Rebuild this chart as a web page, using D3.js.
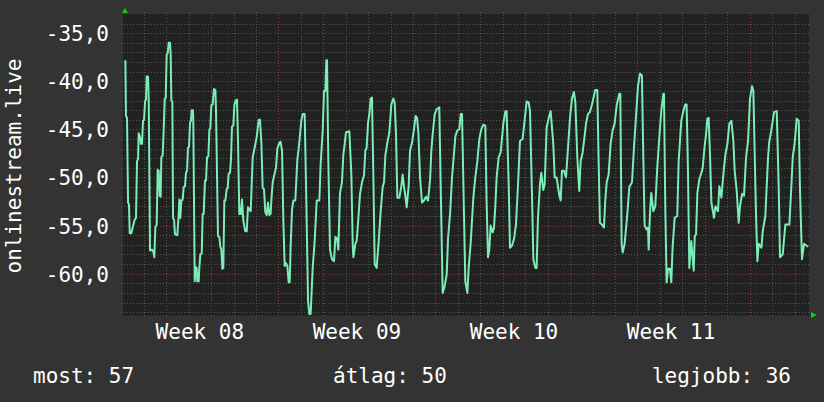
<!DOCTYPE html>
<html><head><meta charset="utf-8">
<script src="https://cdn.jsdelivr.net/npm/d3@7"></script>
<style>html,body{margin:0;padding:0;background:#333333;}svg{display:block;}</style>
</head><body><svg id="c" width="824" height="402"></svg>
<script>
// ---- data (hours since Monday of Week 08, value) ----
const seriesName = "onlinestream.live";
const hours = [4.3,5.0,6.1,7.2,8.2,9.0,10.7,12.2,14.3,15.7,16.8,17.9,18.6,20.0,21.1,22.1,23.2,24.3,25.4,26.4,27.1,28.6,29.3,30.7,32.8,34.3,35.3,36.4,37.8,38.9,40.0,41.0,42.1,42.8,44.2,45.3,46.4,47.5,48.5,49.6,50.7,52.1,52.8,53.5,54.6,55.3,56.4,57.4,59.9,61.4,62.1,63.1,64.2,65.6,66.7,68.1,69.2,70.3,71.3,72.4,73.5,74.5,75.3,76.7,77.0,78.5,79.5,80.6,81.3,82.7,83.5,84.5,86.0,87.0,88.1,89.5,90.6,91.7,93.1,94.2,95.2,96.3,97.7,99.1,100.6,101.3,103.4,104.9,105.9,107.0,108.1,109.1,110.2,111.3,112.7,113.8,114.8,116.3,117.3,118.4,119.8,120.9,122.3,123.7,
124.8,126.2,127.7,129.1,130.5,132.6,134.1,135.5,138.4,140.5,142.6,144.8,146.9,148.3,149.8,151.2,152.6,154.0,155.5,156.9,158.3,159.7,160.5,161.9,164.0,165.4,166.9,169.0,170.4,171.9,173.3,174.7,176.1,177.6,179.0,180.1,181.1,182.6,184.0,186.1,188.3,189.7,192.5,194.0,196.1,196.8,197.9,199.7,201.1,202.5,204.7,206.8,209.0,211.8,213.2,215.4,216.8,218.2,219.3,220.0,221.4,223.2,225.3,227.5,228.9,230.7,232.1,233.9,236.0,237.5,238.9,240.3,243.9,246.0,
247.5,248.2,250.3,251.7,253.2,255.3,257.4,259.6,261.0,262.4,263.9,265.3,266.7,268.1,269.6,271.0,273.1,275.3,277.4,279.5,281.0,282.4,284.5,286.7,288.8,291.0,292.4,293.8,295.2,297.4,299.5,300.9,302.4,303.8,305.2,307.3,308.8,310.9,313.0,314.8,316.3,317.7,319.5,321.6,323.7,325.9,328.0,330.2,331.6,333.0,335.2,337.3,340.1,341.6,343.7,345.8,348.0,349.4,351.6,353.7,357.3,359.4,361.5,363.0,364.4,366.5,
367.9,370.1,371.5,373.6,376.5,378.6,380.8,382.9,385.0,387.2,389.3,390.7,392.2,393.6,395.0,397.2,398.6,400.0,401.4,403.6,405.7,408.6,410.7,412.1,414.3,415.7,417.8,420.0,422.1,424.3,426.4,429.2,431.4,433.5,435.7,437.1,439.2,440.7,442.8,444.2,445.6,447.8,449.2,451.3,452.8,454.9,457.1,459.2,462.0,463.5,465.6,468.5,469.9,471.3,473.5,475.6,477.7,479.9,482.0,484.1,485.6,487.7,489.8,
491.3,493.4,495.5,497.0,499.1,501.2,503.4,505.5,506.9,509.1,510.5,511.9,514.1,516.2,517.6,519.1,521.2,523.3,525.5,527.6,529.8,532.6,533.7,535.1,536.2,538.3,541.2,543.3,546.2,548.3,550.4,552.6,554.7,556.8,558.3,559.7,561.8,563.3,564.0,565.4,566.8,569.0,571.1,573.2,575.4,577.5,579.7,580.4,581.8,583.2,584.7,586.8,588.2,589.6,591.8,594.6,596.1,598.9,601.1,603.2,604.6,606.0,607.5,609.6,
612.2,613.3,614.7,616.1,618.2,620.4,621.8,623.9,625.4,626.8,628.2,629.7,631.1,633.9,635.4,638.2,639.6,641.8,643.9,646.1,648.2,650.3,652.5,654.6,656.0,658.2,660.3,661.7,663.9,666.0,668.2,670.3,672.4,674.6,676.0,678.8,680.3,681.7,684.6,686.0,688.8,691.7,693.1,695.2,698.1,701.0,703.1,704.5,707.4,710.2,714.5,716.6,718.1,720.2,722.3,724.5,725.9,728.0,730.2,733.0,734.5];
const values = [-37.8,-43.6,-43.8,-52.6,-52.8,-55.8,-55.8,-55.2,-54.4,-54.2,-48.3,-48.1,-45.4,-45.8,-46.5,-46.5,-44.1,-44.0,-42.1,-41.9,-39.5,-39.5,-41.9,-57.6,-57.5,-57.7,-58.3,-55.2,-54.9,-49.2,-49.3,-51.9,-52.0,-47.9,-47.7,-45.1,-41.8,-41.7,-37.2,-37.1,-36.0,-36.0,-37.2,-42.0,-42.1,-54.2,-54.4,-55.9,-56.0,-53.8,-52.3,-54.2,-52.4,-52.3,-51.0,-50.9,-49.5,-49.3,-46.9,-46.8,-44.3,-44.1,-43.0,-43.0,-44.3,-60.8,-59.3,-59.4,-60.8,-60.8,-59.3,-58.0,-57.9,-53.8,-53.8,-50.3,-50.3,-47.9,-47.8,-45.0,-44.9,-42.5,-42.4,-40.8,-40.9,-43.1,-56.1,-56.2,-57.2,-57.5,-59.5,-59.4,-52.4,-52.4,-51.2,-51.1,-49.6,-49.5,-48.1,-44.7,-44.6,-42.5,-42.0,-41.9,
-46.1,-53.8,-53.8,-52.3,-54.5,-55.6,-55.6,-53.1,-53.5,-47.9,-46.9,-45.8,-44.0,-44.0,-46.4,-51.1,-51.2,-53.6,-53.9,-52.6,-53.9,-53.8,-52.3,-50.5,-49.6,-49.0,-47.0,-46.4,-46.3,-47.2,-54.5,-59.2,-58.9,-59.2,-60.9,-60.9,-57.1,-53.3,-52.4,-52.4,-48.1,-47.0,-44.1,-43.4,-43.4,-46.9,-52.6,-62.8,-64.2,-64.2,-59.4,-56.6,-52.4,-52.4,-48.6,-45.1,-41.0,-41.0,-37.8,-37.8,-48.3,-57.5,-58.5,-58.7,-56.2,-56.3,-57.5,-51.6,-50.5,-47.6,-46.5,-45.3,-45.2,-49.6,
-56.9,-58.3,-56.9,-56.6,-54.7,-51.7,-50.5,-49.8,-47.2,-46.9,-44.3,-43.4,-41.8,-41.7,-50.0,-59.0,-59.4,-56.6,-53.5,-51.0,-50.5,-47.7,-46.4,-45.3,-42.4,-41.8,-42.2,-45.5,-52.1,-52.1,-50.9,-49.7,-51.0,-51.9,-53.1,-50.9,-47.2,-46.4,-45.0,-43.6,-43.8,-45.3,-50.0,-52.6,-52.4,-52.0,-52.4,-50.3,-47.2,-45.5,-43.4,-42.9,-42.7,-51.0,-62.0,-61.3,-60.1,-56.4,-53.8,-50.0,-45.7,-45.1,-45.0,-43.4,-43.4,-53.8,
-60.8,-62.0,-59.4,-56.9,-52.1,-50.0,-48.3,-46.0,-45.0,-44.5,-44.6,-52.6,-58.3,-57.5,-55.0,-55.7,-55.2,-53.0,-50.0,-47.9,-47.4,-44.4,-43.1,-43.1,-50.7,-57.3,-57.1,-56.4,-54.9,-50.7,-46.2,-46.0,-44.0,-42.1,-42.2,-43.1,-51.7,-58.5,-59.4,-59.4,-54.2,-50.7,-49.5,-51.3,-50.7,-44.8,-43.8,-43.1,-46.5,-50.0,-50.0,-51.9,-52.4,-49.3,-49.3,-50.0,-47.0,-43.8,-41.8,-41.1,-42.2,-47.9,-51.4,
-48.3,-47.4,-45.7,-44.4,-43.4,-43.2,-42.4,-41.5,-40.9,-40.9,-48.3,-54.7,-54.9,-55.2,-52.4,-50.5,-49.7,-46.5,-45.1,-44.4,-42.5,-41.3,-41.3,-56.9,-57.8,-56.9,-53.8,-51.0,-50.5,-46.9,-43.8,-40.5,-39.2,-39.4,-47.9,-55.0,-55.4,-55.2,-57.5,-53.8,-51.6,-53.5,-53.0,-49.0,-45.8,-43.1,-41.3,-41.3,-53.1,-60.9,-59.5,-59.5,-60.9,-57.3,-54.2,-54.0,-48.3,-44.1,-43.1,-42.4,-42.4,-49.0,-59.4,-56.6,
-59.7,-56.1,-55.9,-51.6,-50.2,-49.5,-49.0,-46.7,-45.5,-43.9,-43.8,-47.9,-52.6,-54.2,-53.0,-53.5,-50.9,-52.1,-49.7,-47.6,-46.5,-44.4,-44.1,-46.2,-49.3,-51.4,-54.7,-53.0,-51.7,-51.9,-47.9,-46.2,-41.8,-40.5,-41.0,-53.8,-58.7,-56.9,-57.3,-55.6,-54.0,-47.9,-46.2,-45.1,-43.2,-43.1,-51.0,-58.3,-58.0,-54.9,-54.9,-51.0,-47.9,-46.4,-43.9,-44.1,-51.4,-58.5,-56.9,-57.1,-57.2];
const yTicks = [-35, -40, -45, -50, -55, -60];
const weekLabels = ["Week 08", "Week 09", "Week 10", "Week 11"];
const legendItems = ["most: 57", "átlag: 50", "legjobb: 36"];

// ---- layout ----
const W = 824, H = 402;
const plot = {l: 123, t: 14, r: 809, b: 315.5};
const FONT = "'DejaVu Sans Mono', monospace";
const svg = d3.select("#c");

const x = d3.scaleLinear().domain([1.8, 735.5]).range([plot.l, plot.r]);
const y = d3.scaleLinear().domain([-64.35, -33.0]).range([plot.b, plot.t]);

const loc = d3.formatLocale({decimal: ",", thousands: " ", grouping: [3], currency: ["", ""], minus: "-"});
const fmt = loc.format(".1f");

svg.append("rect").attr("width", W).attr("height", H).attr("fill", "#333333");
svg.append("rect").attr("x", plot.l).attr("y", plot.t)
  .attr("width", plot.r - plot.l).attr("height", plot.b - plot.t).attr("fill", "#212121");

const grid = svg.append("g");
// minor horizontal grid (each unit)
const minorY = d3.range(-64, -33, 1).filter(v => v % 5 !== 0);
grid.selectAll(".my").data(minorY).join("line")
  .attr("x1", plot.l - 2).attr("x2", plot.r + 2)
  .attr("y1", d => Math.round(y(d)) + 0.5).attr("y2", d => Math.round(y(d)) + 0.5)
  .attr("stroke", "#555555").attr("stroke-width", 1).attr("stroke-dasharray", "1,2");
// minor vertical grid (each day)
const dayLines = d3.range(24, 736, 24).filter(h => h % 168 !== 0);
grid.selectAll(".mx").data(dayLines).join("line")
  .attr("x1", d => Math.round(x(d)) + 0.5).attr("x2", d => Math.round(x(d)) + 0.5)
  .attr("y1", plot.t - 2).attr("y2", plot.b + 2)
  .attr("stroke", "#555555").attr("stroke-width", 1).attr("stroke-dasharray", "1,2");
// major horizontal grid
grid.selectAll(".My").data(yTicks).join("line")
  .attr("x1", plot.l - 2).attr("x2", plot.r + 2)
  .attr("y1", d => Math.round(y(d)) + 0.5).attr("y2", d => Math.round(y(d)) + 0.5)
  .attr("stroke", "#7a3e3e").attr("stroke-width", 1).attr("stroke-dasharray", "1,2");
// major vertical grid (weeks)
const weekLines = [168, 336, 504, 672];
grid.selectAll(".Mx").data(weekLines).join("line")
  .attr("x1", d => Math.round(x(d)) + 0.5).attr("x2", d => Math.round(x(d)) + 0.5)
  .attr("y1", plot.t - 2).attr("y2", plot.b + 3)
  .attr("stroke", "#7a3e3e").attr("stroke-width", 1).attr("stroke-dasharray", "1,2");

// data line
const pts = hours.map((h, i) => [h, values[i]]);
svg.append("path").datum(pts)
  .attr("fill", "none").attr("stroke", "#7bedb7").attr("stroke-width", 2)
  .attr("stroke-linejoin", "round")
  .attr("d", d3.line().x(d => x(d[0])).y(d => y(d[1])));

// arrows
svg.append("path").attr("d", `M${plot.l - 1},13 L${plot.l + 2},8 L${plot.l + 5},13 Z`).attr("fill", "#10d010");
svg.append("path").attr("d", `M811,312 L817,315 L811,318 Z`).attr("fill", "#10d010");

// y tick labels
svg.selectAll(".yl").data(yTicks).join("text")
  .attr("x", 109).attr("y", d => y(d) + 8)
  .attr("text-anchor", "end").attr("fill", "#ffffff")
  .attr("font-family", FONT).attr("font-size", 21)
  .text(d => fmt(d));

// x labels (centred in each week)
svg.selectAll(".xl").data(weekLabels).join("text")
  .attr("x", (d, i) => x(84 + 168 * i)).attr("y", 339)
  .attr("text-anchor", "middle").attr("fill", "#ffffff")
  .attr("font-family", FONT).attr("font-size", 21)
  .text(d => d);

// y title
svg.append("text").attr("transform", "translate(21,166) rotate(-90)")
  .attr("text-anchor", "middle").attr("fill", "#ffffff")
  .attr("font-family", FONT).attr("font-size", 21)
  .text(seriesName);

// legend
const legX = [33, 333, 791];
const legA = ["start", "start", "end"];
svg.selectAll(".lg").data(legendItems).join("text")
  .attr("x", (d, i) => legX[i]).attr("y", 383)
  .attr("text-anchor", (d, i) => legA[i]).attr("fill", "#ffffff")
  .attr("font-family", FONT).attr("font-size", 21)
  .text(d => d);
</script></body></html>
